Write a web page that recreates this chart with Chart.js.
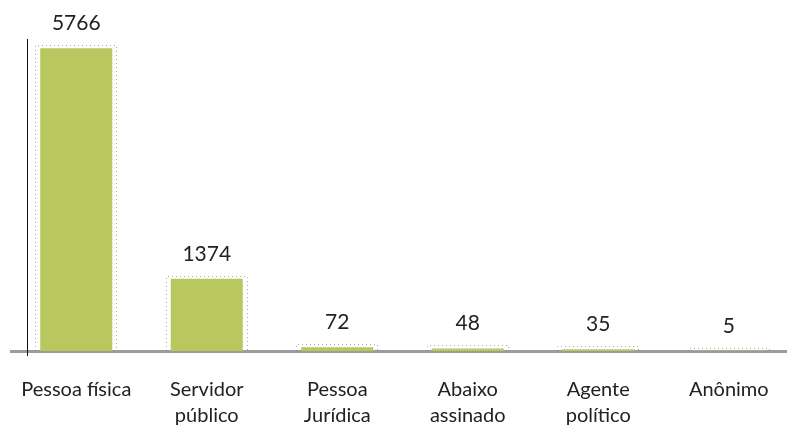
<!DOCTYPE html>
<html>
<head>
<meta charset="utf-8">
<script src="https://cdn.jsdelivr.net/npm/chart.js@4"></script>
<style>
  html, body { margin: 0; padding: 0; background: #fff; overflow: hidden; }
  #wrap { width: 795px; height: 428px; }
</style>
</head>
<body>
<div id="wrap"><canvas id="barchart"></canvas></div>
<script>
const categories = [['Pessoa física'], ['Servidor', 'público'], ['Pessoa', 'Jurídica'], ['Abaixo', 'assinado'], ['Agente', 'político'], ['Anônimo']];
const values = [5766, 1374, 72, 48, 35, 5];
const yMax = 6000;

const fontFamily = 'Lato, "Noto Sans", sans-serif';

// value labels above bars, dotted frame round each bar, thin vertical axis line
const decor = {
    id: 'decor',
    afterDatasetsDraw(chart) {
        const ctx = chart.ctx;
        const area = chart.chartArea;
        const meta = chart.getDatasetMeta(0);
        ctx.save();
        ctx.strokeStyle = 'rgba(110,110,110,0.6)';
        ctx.lineWidth = 1;
        ctx.setLineDash([1, 3]);
        meta.data.forEach((bar) => {
            const half = bar.width / 2;
            const l = Math.round(bar.x - half - 5) + 0.5;
            const r = Math.round(bar.x + half + 4) + 0.5;
            const t = Math.round(bar.y - 3) + 0.5;
            ctx.beginPath();
            ctx.moveTo(l, area.bottom);
            ctx.lineTo(l, t);
            ctx.lineTo(r, t);
            ctx.lineTo(r, area.bottom);
            ctx.stroke();
        });
        ctx.setLineDash([]);

        ctx.strokeStyle = '#111';
        ctx.beginPath();
        ctx.moveTo(area.left + 16.5, area.top + 3);
        ctx.lineTo(area.left + 16.5, area.bottom + 5);
        ctx.stroke();

        ctx.fillStyle = '#222';
        ctx.font = '21px ' + fontFamily;
        ctx.textAlign = 'center';
        ctx.textBaseline = 'alphabetic';
        meta.data.forEach((bar, i) => {
            ctx.fillText(String(values[i]), bar.x, bar.y - 18);
        });
        ctx.restore();
    }
};

const ctx = document.getElementById('barchart').getContext('2d');
const myChart = new Chart(ctx, {
    type: 'bar',
    data: {
        labels: categories,
        datasets: [{
            data: values,
            backgroundColor: '#b8c75e',
            borderWidth: 0,
            barPercentage: 0.552,
            categoryPercentage: 1
        }]
    },
    options: {
        responsive: true,
        maintainAspectRatio: false,
        animation: false,
        layout: { padding: { left: 11, right: 1, top: 36, bottom: 0 } },
        plugins: {
            legend: { display: false },
            tooltip: { enabled: false }
        },
        scales: {
            x: {
                grid: { display: false, drawTicks: false },
                border: { display: true, color: '#9c9c9c', width: 3 },
                ticks: {
                    color: '#222',
                    padding: 26,
                    maxRotation: 0,
                    autoSkip: false,
                    font: { family: fontFamily, size: 20, lineHeight: '26px' }
                },
                afterFit(scale) {
                    scale.height = 77;
                    scale.paddingLeft = 0;
                    scale.paddingRight = 0;
                }
            },
            y: {
                display: false,
                min: 0,
                max: yMax
            }
        }
    },
    plugins: [decor]
});
</script>
</body>
</html>
